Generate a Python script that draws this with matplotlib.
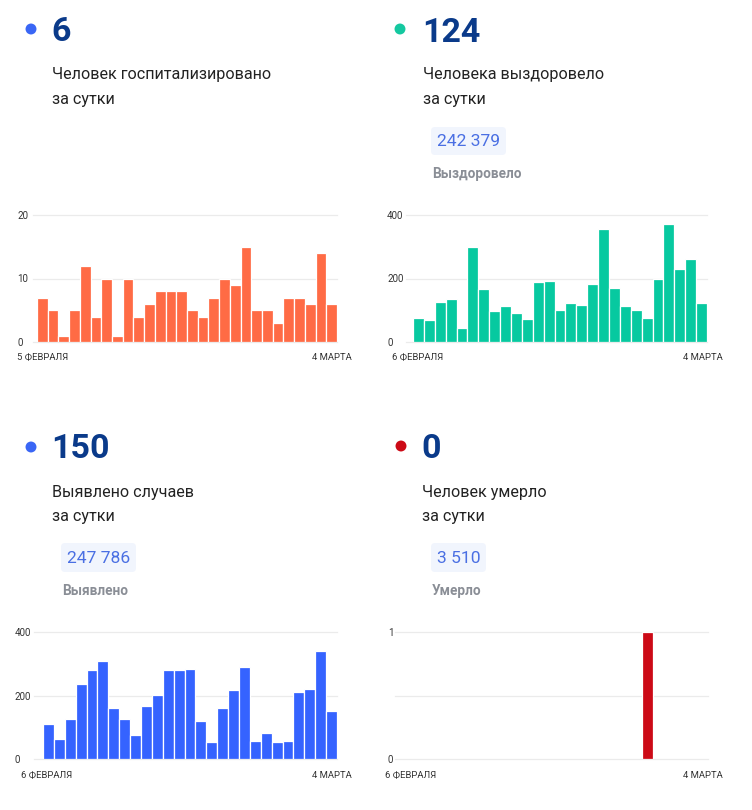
import matplotlib
matplotlib.use("Agg")
import matplotlib.pyplot as plt
from matplotlib.patches import FancyBboxPatch

# ---------------- data ----------------
hosp_values = [7, 5, 1, 5, 12, 4, 10, 1, 10, 4, 6, 8, 8, 8, 5, 4, 7, 10, 9, 15, 5, 5, 3, 7, 7, 6, 14, 6]
recovered_values = [75, 70, 125, 135, 43, 300, 168, 98, 112, 90, 72, 188, 193, 100, 122, 117,
                    183, 355, 170, 112, 100, 77, 197, 372, 230, 260, 123]
cases_values = [111, 63, 126, 237, 279, 308, 162, 125, 77, 166, 201, 279, 280, 282, 119, 52,
                162, 218, 291, 57, 83, 55, 57, 210, 220, 339, 150]
deaths_values = [0] * 21 + [1] + [0] * 5

headline_numbers = ["6", "124", "150", "0"]
headline_labels = [["Человек госпитализировано", "за сутки"],
                   ["Человека выздоровело", "за сутки"],
                   ["Выявлено случаев", "за сутки"],
                   ["Человек умерло", "за сутки"]]
total_numbers = [None, "242 379", "247 786", "3 510"]
total_labels = [None, "Выздоровело", "Выявлено", "Умерло"]
start_labels = ["5 ФЕВРАЛЯ", "6 ФЕВРАЛЯ", "6 ФЕВРАЛЯ", "6 ФЕВРАЛЯ"]
end_labels = ["4 МАРТА", "4 МАРТА", "4 МАРТА", "4 МАРТА"]
y_ticks = [[0, 10, 20], [0, 200, 400], [0, 200, 400], [0, 0.5, 1]]
y_tick_labels = [["0", "10", "20"], ["0", "200", "400"], ["0", "200", "400"], ["0", "", "1"]]
y_max = [20, 400, 400, 1]

# ---------------- style ----------------
W, H = 752, 810
plt.rcParams['font.family'] = ['Roboto', 'DejaVu Sans']
fig = plt.figure(figsize=(W / 100, H / 100), dpi=100)
fig.patch.set_facecolor('white')

def fx(x):
    return x / W

def fy(y):
    return 1 - y / H

bar_colors = ['#ff6b45', '#07c9a0', '#3563ff', '#cc0a16']
dot_colors = ['#3a66f5', '#14c8a0', '#3a66f5', '#cc0a16']
navy = '#0a3a8a'
dark = '#222222'

panels = [
    dict(dot=(31, 29), tx=52, num_base=41, l1=79, l2=104, badge=None),
    dict(dot=(400, 29), tx=423, num_base=41.5, l1=79, l2=104,
         badge=(431, 127, 506, 155), bnum_base=146, blabel_base=178),
    dict(dot=(31, 447), tx=52, num_base=458, l1=497, l2=521,
         badge=(61, 543, 136, 572), bnum_base=563, blabel_base=595),
    dict(dot=(401, 446), tx=422, num_base=458, l1=497, l2=521,
         badge=(431, 543, 486, 572), bnum_base=563, blabel_base=595),
]

overlay = fig.add_axes([0, 0, 1, 1], zorder=-1)
overlay.set_xlim(0, W)
overlay.set_ylim(H, 0)
overlay.axis('off')

for i, p in enumerate(panels):
    overlay.scatter([p['dot'][0]], [p['dot'][1]], s=62, color=dot_colors[i], edgecolors='none')
    fig.text(fx(p['tx'] - 1), fy(p['num_base']), headline_numbers[i], fontsize=24.5,
             fontweight='bold', color=navy, ha='left', va='baseline')
    fig.text(fx(p['tx']), fy(p['l1']), headline_labels[i][0], fontsize=11.6,
             color=dark, ha='left', va='baseline')
    fig.text(fx(p['tx']), fy(p['l2']), headline_labels[i][1], fontsize=11.6,
             color=dark, ha='left', va='baseline')
    if p['badge'] is not None:
        x0, y0, x1, y1 = p['badge']
        overlay.add_patch(FancyBboxPatch((x0, y0), x1 - x0, y1 - y0,
                                         boxstyle="round,pad=0,rounding_size=4",
                                         facecolor='#f1f5fd', edgecolor='none'))
        fig.text(fx((x0 + x1) / 2), fy(p['bnum_base']), total_numbers[i], fontsize=12.6,
                 color='#4a6fe3', ha='center', va='baseline')
        fig.text(fx(x0 + 1), fy(p['blabel_base']), total_labels[i], fontsize=9.8,
                 fontweight='bold', color='#8a8e96', ha='left', va='baseline')

# ---------------- charts ----------------
charts = [
    dict(x0=37, x1=337, yb=342, yt=215, lab=17, grid=33, xl_y=357, xl_left=17, xl_right=352),
    dict(x0=413, x1=707, yb=342, yt=215, lab=387, grid=406, xl_y=357, xl_left=392, xl_right=723),
    dict(x0=43, x1=337, yb=759, yt=632, lab=15, grid=34, xl_y=775, xl_left=21, xl_right=352),
    dict(x0=412, x1=708, yb=759, yt=632, lab=388, grid=395, xl_y=775, xl_left=385, xl_right=723),
]
series = [hosp_values, recovered_values, cases_values, deaths_values]

for i, c in enumerate(charts):
    vals = series[i]
    n = len(vals)
    ax = fig.add_axes([fx(c['x0']), fy(c['yb']), fx(c['x1']) - fx(c['x0']), fy(c['yt']) - fy(c['yb'])])
    ax.patch.set_alpha(0)
    ax.bar(range(n), vals, width=1.0, color=bar_colors[i], edgecolor='white', linewidth=0.9, zorder=3)
    ax.set_xlim(-0.5, n - 0.5)
    ax.set_ylim(0, y_max[i])
    for s in ax.spines.values():
        s.set_visible(False)
    ax.set_xticks([])
    gx0 = (c['grid'] - c['x0']) / (c['x1'] - c['x0'])
    for yv in y_ticks[i]:
        ax.axhline(yv, xmin=gx0, xmax=1.0, color='#ebebeb', linewidth=0.9, zorder=1, clip_on=False)
    ax.set_yticks(y_ticks[i])
    ax.set_yticklabels(y_tick_labels[i])
    pad_pt = (c['x0'] - c['lab']) * 0.72
    ax.tick_params(axis='y', length=0, pad=pad_pt, labelsize=7, labelcolor='#333333')
    for t in ax.get_yticklabels():
        t.set_horizontalalignment('left')
    fig.text(fx(c['xl_left']), fy(c['xl_y']), start_labels[i], fontsize=6.8, color='#333333',
             ha='left', va='center')
    fig.text(fx(c['xl_right']), fy(c['xl_y']), end_labels[i], fontsize=6.8, color='#333333',
             ha='right', va='center')

fig.savefig('out.png', dpi=100, facecolor='white')
